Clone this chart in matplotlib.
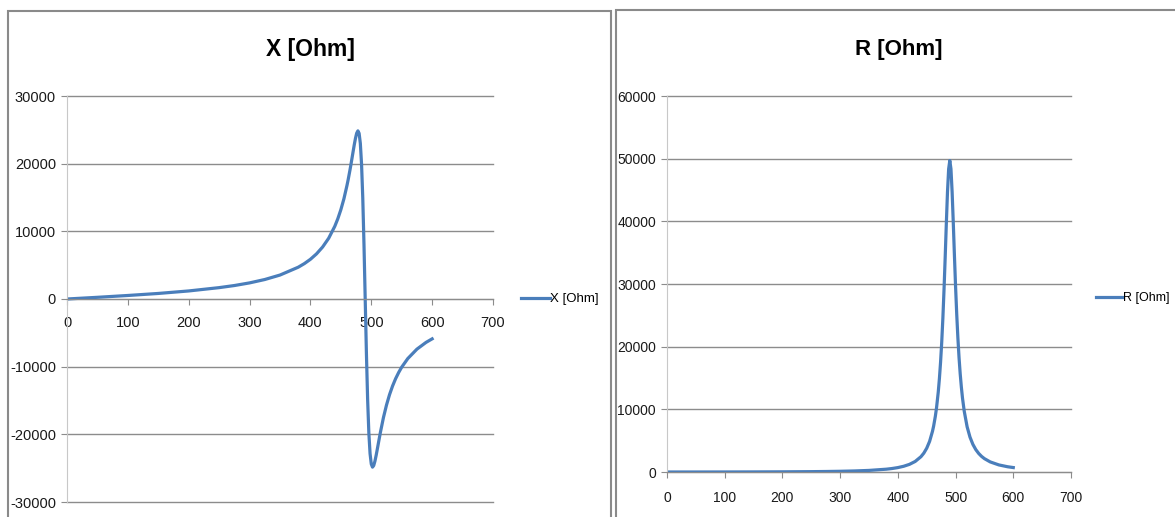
import matplotlib.pyplot as plt
from matplotlib.patches import Rectangle

# frequency points and values
freq = [0, 25, 50, 100, 150, 200, 250, 275, 300, 325, 350, 380, 390, 400,
        410, 420, 430, 440, 445, 450, 455, 460, 462, 465, 467, 470, 472, 474,
        476, 478, 480, 482, 484, 486, 488, 490, 492, 494, 496, 498, 500, 502,
        504, 506, 508, 510, 512, 515, 520, 525, 530, 535, 540, 545, 550, 560,
        575, 590, 600]

x_ohm = [0, 125, 250, 520, 820, 1190, 1680, 1990, 2380, 2880, 3540, 4700,
         5230, 5870, 6670, 7680, 8980, 10740, 11860, 13200, 14800, 16760,
         17630, 19070, 20100, 21710, 22780, 23740, 24500, 24850, 24480, 23010,
         19940, 14950, 8070, 0, -8040, -14880, -19800, -22860, -24390, -24850,
         -24610, -23960, -23100, -22140, -21150, -19700, -17510, -15670,
         -14130, -12850, -11770, -10860, -10070, -8800, -7410, -6410, -5890]

r_ohm = [0, 0, 1, 5, 14, 29, 57, 80, 114, 167, 253, 448, 557, 704, 913, 1216,
         1681, 2441, 3012, 3794, 4890, 6497, 7341, 8921, 10241, 12763, 14916,
         17529, 20708, 24555, 29115, 34238, 39674, 44694, 48353, 49700, 48364,
         44740, 39868, 34586, 29592, 25177, 21410, 18265, 15691, 13568, 11797,
         9707, 7219, 5562, 4410, 3580, 2965, 2496, 2132, 1610, 1130, 841, 708]

x_ticks = [0, 100, 200, 300, 400, 500, 600, 700]
x_yticks = [-30000, -20000, -10000, 0, 10000, 20000, 30000]
r_yticks = [0, 10000, 20000, 30000, 40000, 50000, 60000]

plt.rcParams['font.family'] = ['Liberation Sans', 'DejaVu Sans']
plt.rcParams['axes.unicode_minus'] = False

blue = '#4a7ebb'
grid_col = '#8c8c8c'
text_col = '#1a1a1a'

fig = plt.figure(figsize=(11.75, 5.17), dpi=100)

# panel borders (two separate chart objects)
fig.add_artist(Rectangle((8/1175, -0.1), 603/1175, 1.1 - 11/517,
                         transform=fig.transFigure, fill=False,
                         ec='#8a8a8a', lw=1.5))
fig.add_artist(Rectangle((616/1175, -0.1), 0.6, 1.1 - 10/517,
                         transform=fig.transFigure, fill=False,
                         ec='#8a8a8a', lw=1.5))


def style_axes(ax, yticks, lab_size, xpad):
    ax.set_xlim(0, 700)
    ax.set_xticks(x_ticks)
    ax.set_yticks(yticks)
    ax.set_ylim(yticks[0], yticks[-1])
    ax.grid(axis='y', color=grid_col, lw=1.0)
    ax.set_axisbelow(True)
    for gl in ax.get_ygridlines():
        gl.set_clip_on(False)
    ax.spines['top'].set_visible(False)
    ax.spines['right'].set_visible(False)
    ax.spines['left'].set_color('#c8c8c8')
    ax.spines['bottom'].set_color(grid_col)
    ax.tick_params(axis='y', length=4, color=grid_col, pad=4,
                   labelsize=lab_size, labelcolor=text_col)
    ax.tick_params(axis='x', length=4, color=grid_col, pad=xpad,
                   labelsize=lab_size, labelcolor=text_col)


# left chart: reactance
ax1 = fig.add_axes([67/1175, 1 - 502/517, 426/1175, 406/517])
ax1.plot(freq, x_ohm, color=blue, lw=2.3, label='X [Ohm]')
style_axes(ax1, x_yticks, 10.5, 8.5)
ax1.spines['bottom'].set_position(('data', 0))
ax1.legend(loc='center left', bbox_to_anchor=(1.065, 0.5), frameon=False,
           fontsize=9.5, handlelength=2.2, handletextpad=0.05,
           borderaxespad=0, borderpad=0)
fig.text(310/1175, 1 - 50/517, 'X [Ohm]', ha='center', va='center',
         fontsize=16.5, fontweight='bold', color='black')

# right chart: resistance
ax2 = fig.add_axes([667/1175, 1 - 472/517, 404/1175, 376/517])
ax2.plot(freq, r_ohm, color=blue, lw=2.3, label='R [Ohm]')
style_axes(ax2, r_yticks, 10, 9.5)
ax2.legend(loc='center left', bbox_to_anchor=(1.062, 0.463), frameon=False,
           fontsize=9, handlelength=2.1, handletextpad=0.05,
           borderaxespad=0, borderpad=0)
fig.text(899/1175, 1 - 50/517, 'R [Ohm]', ha='center', va='center',
         fontsize=16, fontweight='bold', color='black')

fig.savefig('out.png', dpi=100)
